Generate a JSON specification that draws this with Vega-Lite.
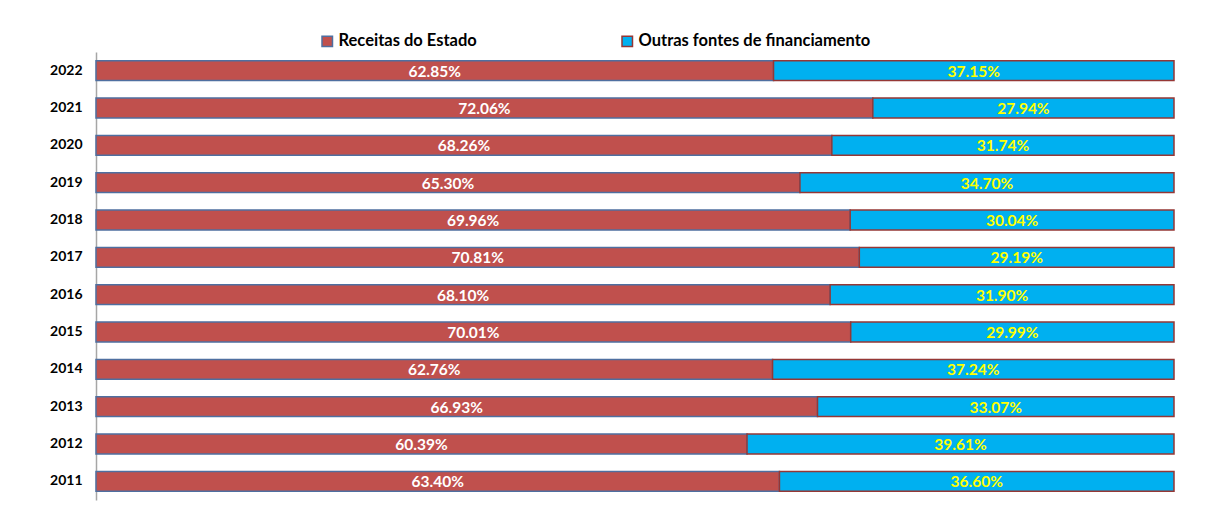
{
  "$schema": "https://vega.github.io/schema/vega-lite/v6.json",
  "width": 1078,
  "height": 448,
  "autosize": {"type": "none"},
  "padding": {"left": 96, "top": 52, "right": 35, "bottom": 5},
  "background": "white",
  "config": {
    "view": {"stroke": null},
    "font": "Lato"
  },
  "data": {
    "values": [
      {"year": "2022", "source": "Receitas do Estado", "value": 62.85},
      {"year": "2022", "source": "Outras fontes de financiamento", "value": 37.15},
      {"year": "2021", "source": "Receitas do Estado", "value": 72.06},
      {"year": "2021", "source": "Outras fontes de financiamento", "value": 27.94},
      {"year": "2020", "source": "Receitas do Estado", "value": 68.26},
      {"year": "2020", "source": "Outras fontes de financiamento", "value": 31.74},
      {"year": "2019", "source": "Receitas do Estado", "value": 65.30},
      {"year": "2019", "source": "Outras fontes de financiamento", "value": 34.70},
      {"year": "2018", "source": "Receitas do Estado", "value": 69.96},
      {"year": "2018", "source": "Outras fontes de financiamento", "value": 30.04},
      {"year": "2017", "source": "Receitas do Estado", "value": 70.81},
      {"year": "2017", "source": "Outras fontes de financiamento", "value": 29.19},
      {"year": "2016", "source": "Receitas do Estado", "value": 68.10},
      {"year": "2016", "source": "Outras fontes de financiamento", "value": 31.90},
      {"year": "2015", "source": "Receitas do Estado", "value": 70.01},
      {"year": "2015", "source": "Outras fontes de financiamento", "value": 29.99},
      {"year": "2014", "source": "Receitas do Estado", "value": 62.76},
      {"year": "2014", "source": "Outras fontes de financiamento", "value": 37.24},
      {"year": "2013", "source": "Receitas do Estado", "value": 66.93},
      {"year": "2013", "source": "Outras fontes de financiamento", "value": 33.07},
      {"year": "2012", "source": "Receitas do Estado", "value": 60.39},
      {"year": "2012", "source": "Outras fontes de financiamento", "value": 39.61},
      {"year": "2011", "source": "Receitas do Estado", "value": 63.40},
      {"year": "2011", "source": "Outras fontes de financiamento", "value": 36.60}
    ]
  },
  "transform": [
    {"calculate": "datum.source === 'Receitas do Estado' ? 0 : 1", "as": "ord"},
    {"stack": "value", "groupby": ["year"], "sort": [{"field": "ord", "order": "ascending"}], "as": ["v0", "v1"]},
    {"calculate": "(datum.v0 + datum.v1) / 2", "as": "mid"},
    {"calculate": "format(datum.value, '.2f') + '%'", "as": "label"}
  ],
  "encoding": {
    "y": {
      "field": "year",
      "type": "ordinal",
      "sort": "descending",
      "scale": {"paddingInner": 0.47, "paddingOuter": 0.235},
      "axis": {
        "title": null,
        "ticks": false,
        "labelPadding": 14,
        "labelFont": "Lato",
        "labelFontWeight": "bold",
        "labelFontSize": 14,
        "labelColor": "#000000",
        "domainColor": "#a6a6a6",
        "domainWidth": 1.5
      }
    }
  },
  "layer": [
    {
      "mark": {"type": "bar", "strokeWidth": 1.5},
      "encoding": {
        "x": {"field": "v0", "type": "quantitative", "scale": {"domain": [0, 100], "nice": false}, "axis": null},
        "x2": {"field": "v1"},
        "color": {
          "field": "source",
          "type": "nominal",
          "sort": ["Receitas do Estado", "Outras fontes de financiamento"],
          "scale": {"domain": ["Receitas do Estado", "Outras fontes de financiamento"], "range": ["#C0504D", "#00B0F0"]},
          "legend": {
            "title": null,
            "orient": "none",
            "direction": "horizontal",
            "legendX": 223,
            "legendY": -19,
            "symbolType": "square",
            "symbolSize": 110,
            "symbolStrokeWidth": 1.5,
            "labelFont": "Lato",
            "labelFontWeight": "bold",
            "labelFontSize": 16.5,
            "labelColor": "#000000",
            "labelOffset": 3,
            "columnPadding": 142,
            "labelLimit": 400,
            "padding": 0
          }
        },
        "stroke": {
          "field": "source",
          "type": "nominal",
          "scale": {"domain": ["Receitas do Estado", "Outras fontes de financiamento"], "range": ["#4F6FA0", "#953735"]},
          "legend": null
        },
        "order": {"field": "ord"}
      }
    },
    {
      "mark": {"type": "text", "font": "Lato", "fontWeight": "bold", "fontSize": 15.5, "baseline": "middle", "align": "center", "dy": 1},
      "encoding": {
        "x": {"field": "mid", "type": "quantitative"},
        "text": {"field": "label", "type": "nominal"},
        "color": {
          "condition": {"test": "datum.source === 'Receitas do Estado'", "value": "#FFFFFF"},
          "value": "#FFFF00"
        }
      }
    }
  ]
}
